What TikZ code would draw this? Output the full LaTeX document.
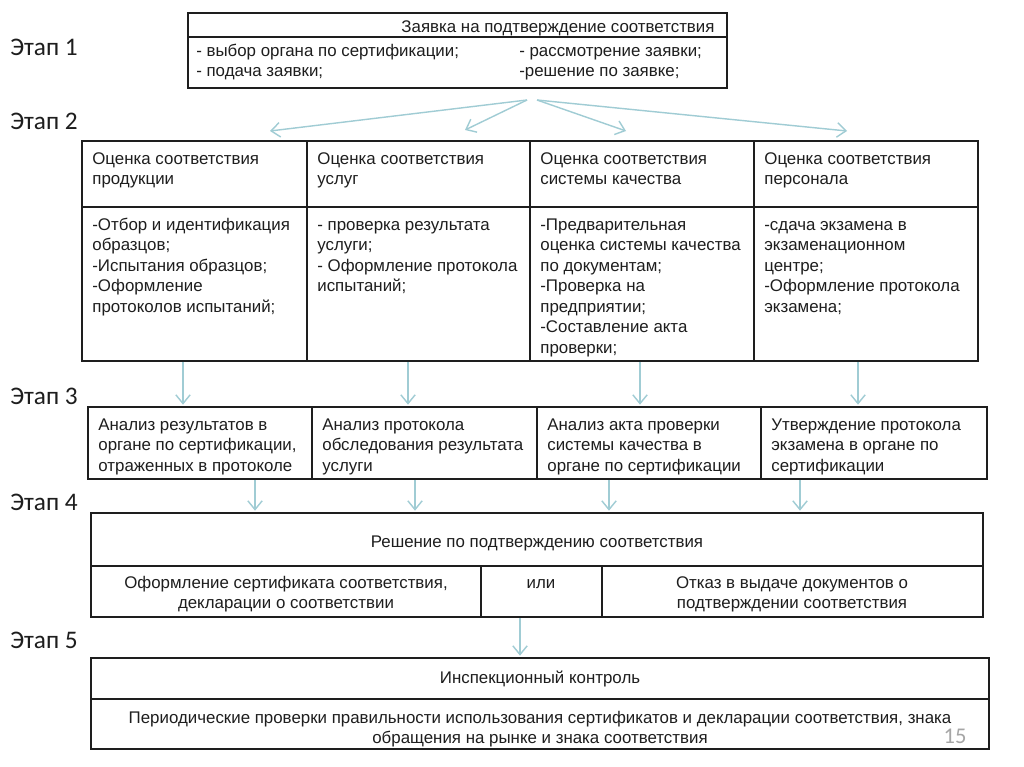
\documentclass[tikz,border=0pt]{standalone}
\usepackage{fontspec}
\setmainfont{Liberation Sans}
\newfontfamily\stagefont{Carlito}
\usetikzlibrary{fit,arrows.meta}
\definecolor{ink}{RGB}{30,30,30}
\definecolor{arrowblue}{RGB}{160,204,212}
\newcommand{\mkcell}[4]{\node[cell, fit={#2 #3}] (#1) {}; \node[txt] (#1t) at ([shift={(11,9.6)}]#1.north west) {\strut #4};}

\begin{document}
\begin{tikzpicture}[
    x=0.025cm, y=-0.025cm,
    cell/.style={draw=ink, line width=1.3pt, inner sep=0pt},
    txt/.style={inner sep=0pt, anchor=north west, align=left, text=ink, font=\fontsize{12}{14.6}\selectfont},
    ctxt/.style={txt, align=center, anchor=north},
    stage/.style={inner sep=0pt, anchor=base west, text=ink, font=\stagefont\fontsize{18}{20}\selectfont},
    arr/.style={draw=arrowblue, line width=1pt, -{Straight Barb[length=2.2mm,width=3.6mm]}}
    ]
    \useasboundingbox[fill=white] (0,0) rectangle (1024,767);
    % stage labels
    \node[stage] (s1) at (10,56) {Этап 1};
    \node[stage] (s2) at (10,130) {Этап 2};
    \node[stage] (s3) at (10,404) {Этап 3};
    \node[stage] (s4) at (10,510) {Этап 4};
    \node[stage] (s5) at (10,648) {Этап 5};
    % stage 1
    \node[cell, fit={(188,13) (727,37)}] (z0) {};
    \node[cell, fit={(188,37) (727,88)}] (z1) {};
    \node[ctxt] (z0t) at (558,17.6) {\strut Заявка на подтверждение соответствия};
    \node[txt] (z1l) at (196,41.6) {\strut - выбор органа по сертификации;\\- подача заявки;};
    \node[txt] (z1r) at (519,41.6) {\strut - рассмотрение заявки;\\-решение по заявке;};
    % stage 2
    \mkcell{h1}{(82,141)}{(307,207)}{Оценка соответствия\\продукции}
    \mkcell{h2}{(307,141)}{(530,207)}{Оценка соответствия\\услуг}
    \mkcell{h3}{(530,141)}{(754,207)}{Оценка соответствия\\системы качества}
    \mkcell{h4}{(754,141)}{(978,207)}{Оценка соответствия\\персонала}
    \mkcell{b1}{(82,207)}{(307,361)}{-Отбор и идентификация\\образцов;\\-Испытания образцов;\\-Оформление\\протоколов испытаний;}
    \mkcell{b2}{(307,207)}{(530,361)}{- проверка результата\\услуги;\\- Оформление протокола\\испытаний;}
    \mkcell{b3}{(530,207)}{(754,361)}{-Предварительная\\оценка системы качества\\по документам;\\-Проверка на\\предприятии;\\-Составление акта\\проверки;}
    \mkcell{b4}{(754,207)}{(978,361)}{-сдача экзамена в\\экзаменационном\\центре;\\-Оформление протокола\\экзамена;}
    % stage 3
    \mkcell{a1}{(88,407)}{(312,479)}{Анализ результатов в\\органе по сертификации,\\отраженных в протоколе}
    \mkcell{a2}{(312,407)}{(537,479)}{Анализ протокола\\обследования результата\\услуги}
    \mkcell{a3}{(537,407)}{(761,479)}{Анализ акта проверки\\системы качества в\\органе по сертификации}
    \mkcell{a4}{(761,407)}{(987,479)}{Утверждение протокола\\экзамена в органе по\\сертификации}
    % stage 4
    \node[cell, fit={(91,513) (983,566)}] (r0) {};
    \node[cell, fit={(91,566) (481,617)}] (r1) {};
    \node[cell, fit={(481,566) (602,617)}] (r2) {};
    \node[cell, fit={(602,566) (983,617)}] (r3) {};
    \node[ctxt] (r0t) at (537,532.6) {\strut Решение по подтверждению соответствия};
    \node[ctxt] (r1t) at (286,573.6) {\strut Оформление сертификата соответствия,\\декларации о соответствии};
    \node[ctxt] (r2t) at (541,573.6) {\strut или};
    \node[ctxt] (r3t) at (792,573.6) {\strut Отказ в выдаче документов о\\подтверждении соответствия};
    % stage 5
    \node[cell, fit={(91,658) (989,699)}] (k0) {};
    \node[cell, fit={(91,699) (989,749)}] (k1) {};
    \node[ctxt] (k0t) at (540,668.6) {\strut Инспекционный контроль};
    \node[ctxt] (k1t) at (540,708.6) {\strut Периодические проверки правильности использования сертификатов и декларации соответствия, знака\\обращения на рынке и знака соответствия};
    \node[inner sep=0pt, text=gray!70, font=\stagefont\fontsize{16}{16}\selectfont] (pg) at (955,736) {15};
    % arrows
    \coordinate (fanL) at (527,100);
    \coordinate (fanR) at (537,100);
    \coordinate (f1) at (270,131);
    \coordinate (f2) at (465,130);
    \coordinate (f3) at (626,131);
    \coordinate (f4) at (847,131);
    \draw[arr] (fanL) -- (f1);
    \draw[arr] (fanL) -- (f2);
    \draw[arr] (fanR) -- (f3);
    \draw[arr] (fanR) -- (f4);
    \foreach \n/\x in {1/183,2/408,3/640,4/858}
      \draw[arr, shorten >=1pt] (b\n.south -| \x,0) -- (a\n.north -| \x,0);
    \foreach \n/\x in {1/255,2/415,3/609,4/800}
      \draw[arr, shorten >=1pt] (a\n.south -| \x,0) -- (r0.north -| \x,0);
    \draw[arr, shorten >=1pt] (r2.south -| 520,0) -- (k0.north -| 520,0);
  \end{tikzpicture}
\end{document}
